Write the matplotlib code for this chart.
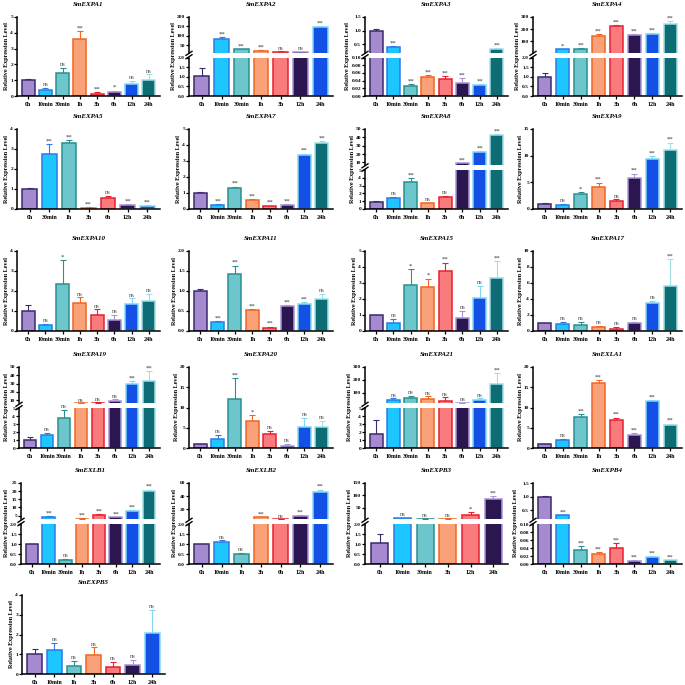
import numpy as np
import matplotlib
matplotlib.use("Agg")
import matplotlib.pyplot as plt
from matplotlib.lines import Line2D

plt.rcParams['font.family'] = ['Liberation Serif', 'DejaVu Serif']
plt.rcParams['font.weight'] = 'bold'

# ---- data (mean, error, significance) ----
T8 = ['0h', '10min', '30min', '1h', '3h', '6h', '12h', '24h']

A1_lab = T8
A1_mean = [1.0, 0.38, 1.45, 3.6, 0.15, 0.25, 0.75, 1.02]
A1_err = [0.1, 0.12, 0.35, 0.5, 0.1, 0.08, 0.2, 0.35]
A1_sig = ['', 'ns', 'ns', '**', '**', '*', 'ns', 'ns']

A2_lab = ['0h', '10min', '30min', '1h', '3h', '12h', '24h']
A2_mean = [1.05, 82, 28, 20, 16, 13, 145]
A2_err = [0.42, 10, 4, 3, 2, 3, 6]
A2_sig = ['', '**', '**', '**', 'ns', 'ns', '**']

A3_lab = T8
A3_mean = [1.0, 0.42, 0.027, 0.05, 0.045, 0.035, 0.028, 0.32]
A3_err = [0.05, 0.02, 0.003, 0.004, 0.008, 0.012, 0.003, 0.03]
A3_sig = ['', '**', '**', '**', '**', '**', '**', '**']

A4_lab = T8
A4_mean = [1.0, 35, 38, 145, 225, 150, 160, 245]
A4_err = [0.2, 5, 10, 15, 8, 8, 12, 25]
A4_sig = ['', '*', '**', '**', '**', '**', '**', '**']

A5_lab = ['0h', '30min', '1h', '3h', '6h', '12h', '24h']
A5_mean = [1.0, 2.75, 3.32, 0.07, 0.57, 0.2, 0.13]
A5_err = [0.05, 0.5, 0.12, 0.02, 0.08, 0.04, 0.06]
A5_sig = ['', '**', '**', '**', 'ns', '**', '**']

A7_lab = T8
A7_mean = [1.0, 0.25, 1.3, 0.55, 0.17, 0.27, 3.35, 4.15]
A7_err = [0.05, 0.04, 0.08, 0.05, 0.03, 0.03, 0.1, 0.1]
A7_sig = ['', '**', '**', '**', '**', '**', '**', '**']

A8_lab = T8
A8_mean = [0.95, 1.45, 3.4, 0.75, 1.6, 9, 22, 43]
A8_err = [0.1, 0.15, 0.6, 0.05, 0.1, 0.5, 1.5, 1.5]
A8_sig = ['', 'ns', '**', 'ns', 'ns', '**', '**', '**']

A9_lab = T8
A9_mean = [1.0, 0.8, 2.9, 4.1, 1.5, 5.9, 9.4, 11.0]
A9_err = [0.1, 0.15, 0.2, 0.8, 0.3, 0.7, 0.5, 1.4]
A9_sig = ['', 'ns', '*', '**', 'ns', '**', '**', '**']

A10_lab = T8
A10_mean = [1.0, 0.32, 2.35, 1.38, 0.78, 0.57, 1.35, 1.5]
A10_err = [0.3, 0.05, 1.2, 0.3, 0.3, 0.25, 0.28, 0.35]
A10_sig = ['', 'ns', '*', 'ns', 'ns', 'ns', 'ns', 'ns']

A11_lab = T8
A11_mean = [1.0, 0.22, 1.43, 0.52, 0.08, 0.62, 0.67, 0.8]
A11_err = [0.05, 0.03, 0.2, 0.03, 0.03, 0.03, 0.05, 0.12]
A11_sig = ['', '**', '**', '**', '**', '**', '**', 'ns']

A15_lab = T8
A15_mean = [1.0, 0.5, 2.85, 2.77, 3.72, 0.8, 2.07, 3.3]
A15_err = [0.03, 0.25, 1.0, 0.5, 0.55, 0.45, 0.75, 1.05]
A15_sig = ['', 'ns', '*', '*', '**', 'ns', 'ns', '**']

A17_lab = T8
A17_mean = [0.95, 0.85, 0.7, 0.55, 0.3, 1.05, 3.55, 5.6]
A17_err = [0.05, 0.3, 0.4, 0.1, 0.2, 0.05, 0.25, 3.4]
A17_sig = ['', 'ns', 'ns', 'ns', 'ns', 'ns', 'ns', '**']

A19_lab = T8
A19_mean = [1.0, 1.6, 3.75, 6.3, 6.5, 8.5, 29, 33]
A19_err = [0.4, 0.35, 1.1, 0.4, 0.8, 3, 4, 12]
A19_sig = ['', 'ns', 'ns', 'ns', 'ns', 'ns', '**', '**']

A20_lab = T8
A20_mean = [0.9, 2.1, 12.0, 6.7, 3.5, 0.6, 5.1, 5.3]
A20_err = [0.1, 1.2, 5.2, 1.4, 0.7, 0.4, 2.3, 1.3]
A20_sig = ['', 'ns', '**', '*', 'ns', 'ns', 'ns', 'ns']

A21_lab = T8
A21_mean = [1.8, 45, 60, 50, 38, 18, 45, 165]
A21_err = [1.75, 12, 15, 20, 25, 3, 10, 90]
A21_sig = ['', 'ns', 'ns', 'ns', 'ns', 'ns', 'ns', '**']

LA1_lab = T8
LA1_mean = [0.95, 1.95, 7.7, 16.1, 6.8, 3.3, 11.5, 5.8]
LA1_err = [0.1, 0.3, 0.6, 0.6, 0.7, 0.4, 0.3, 0.2]
LA1_sig = ['', 'ns', '**', '**', '**', '**', '**', '**']

LB1_lab = T8
LB1_mean = [1.0, 4.3, 0.22, 3.2, 5.5, 4.0, 8.0, 20.0]
LB1_err = [0.03, 0.4, 0.05, 0.2, 0.3, 0.3, 0.5, 1.0]
LB1_sig = ['', '**', 'ns', '**', '**', '**', '**', '**']

LB2_lab = ['0h', '10min', '1h', '3h', '6h', '12h', '24h']
LB2_mean = [1.0, 1.1, 0.5, 7.5, 4.5, 9.5, 46]
LB2_err = [0.03, 0.1, 0.08, 1.0, 0.3, 1.0, 4.0]
LB2_sig = ['', 'ns', 'ns', '**', 'ns', '**', '**']

B3_lab = ['0h', '10min', '30min', '3h', '12h', '24h']
B3_mean = [1.05, 8, 6, 6, 22, 85]
B3_err = [0.45, 2, 1, 1, 10, 12]
B3_sig = ['', 'ns', 'ns', 'ns', '*', '**']

B4_lab = T8
B4_mean = [1.0, 0.3, 0.036, 0.026, 0.04, 0.008, 0.017, 0.009]
B4_err = [0.02, 0.03, 0.01, 0.005, 0.012, 0.003, 0.004, 0.002]
B4_sig = ['', '**', '**', '**', '**', '**', '**', '**']

B5_lab = ['0h', '10min', '1h', '3h', '6h', '12h', '24h']
B5_mean = [1.0, 1.22, 0.4, 0.97, 0.35, 0.45, 2.1]
B5_err = [0.28, 0.35, 0.28, 0.38, 0.25, 0.27, 1.15]
B5_sig = ['', 'ns', 'ns', 'ns', 'ns', 'ns', 'ns']

# bar colours by position
FACE = ['#a58ad0', '#1ec6ff', '#6cc6cc', '#f9a27a', '#fa7b7e', '#2b1650', '#1550e6', '#0e6c75']
EDGE = ['#3b2a6e', '#2d7be8', '#2a8f90', '#f26522', '#e8202e', '#a895d8', '#7fd8f5', '#9fe0e8']

W, H = 685, 685
fig = plt.figure(figsize=(6.85, 6.85), dpi=100)

COLS = [(17, 160), (189, 333), (365, 508), (533, 682)]
ROWS = [(17, 96), (129, 209), (251, 331), (367, 448), (483, 564), (595, 674)]

ylab_jobs = []  # (axes list, top, bottom) -> y labels placed after drawing


def px_axes(l, t, r, b):
    return fig.add_axes([l / W, 1 - b / H, (r - l) / W, (b - t) / H])


def style(ax, ticks, fmt, bottom=True):
    ax.spines['top'].set_visible(False)
    ax.spines['right'].set_visible(False)
    ax.spines['left'].set_linewidth(1.1)
    ax.spines['bottom'].set_linewidth(1.1)
    ax.set_yticks(ticks)
    ax.set_yticklabels([fmt.format(t) for t in ticks], fontsize=3.9, fontweight='bold')
    ax.tick_params(axis='y', length=2, width=0.9, pad=0.8)
    if not bottom:
        ax.spines['bottom'].set_visible(False)
        ax.set_xticks([])


def bars(ax, mean, err, sig, lo, hi):
    x = np.arange(len(mean))
    span = hi - lo
    for i in range(len(mean)):
        ax.bar(x[i], mean[i], width=0.75, color=FACE[i], edgecolor=EDGE[i], linewidth=1.1, zorder=2)
        top = mean[i] + err[i]
        if mean[i] <= hi and top >= lo:
            ax.errorbar(x[i], mean[i], yerr=[[0], [err[i]]], ecolor=EDGE[i], capsize=2,
                        elinewidth=0.8, capthick=0.8, zorder=1)
        if sig[i] and lo <= top < hi + 0.05 * span:
            ax.text(x[i], top + 0.01 * span, sig[i], ha='center', va='bottom',
                    fontsize=4.8, color='#333333' if sig[i] != 'ns' else '#555555',
                    fontweight='normal')
    ax.set_xlim(-0.65, len(mean) - 0.35)
    ax.set_ylim(lo, hi)


def xlabels(ax, labels):
    ax.set_xticks(np.arange(len(labels)))
    ax.set_xticklabels(labels, fontsize=4.3, fontweight='bold')
    ax.tick_params(axis='x', length=2, width=0.9, pad=2)


def panel(col, row, title, labels, mean, err, sig, ticks, fmt,
          brk=None, left=None, right=None):
    l, r = COLS[col]
    if left is not None:
        l = left
    if right is not None:
        r = right
    t, b = ROWS[row]
    if brk is None:
        ax = px_axes(l, t, r, b)
        bars(ax, mean, err, sig, ticks[0], ticks[-1])
        style(ax, ticks, fmt)
        xlabels(ax, labels)
        axes = [ax]
    else:
        up_lo, up_ticks, up_fmt = brk
        gap = 5
        hu = (b - t - gap) * 0.48
        axu = px_axes(l, t, r, t + hu)
        axl = px_axes(l, t + hu + gap, r, b)
        bars(axu, mean, err, sig, up_lo, up_ticks[-1])
        bars(axl, mean, err, sig, ticks[0], ticks[-1])
        style(axu, up_ticks, up_fmt, bottom=False)
        style(axl, ticks, fmt)
        xlabels(axl, labels)
        axes = [axu, axl]
        # break mark on the y axis
        yb = t + hu + gap / 2
        for dy in (-1.7, 1.7):
            fig.add_artist(Line2D([(l - 3) / W, (l + 3) / W],
                                  [1 - (yb + dy + 2.0) / H, 1 - (yb + dy - 2.0) / H],
                                  color='black', lw=1.0))
    fig.text((l + r) / 2 / W, 1 - (t - 12) / H, title, ha='center', va='center',
             fontsize=5, fontstyle='italic', fontweight='bold')
    ylab_jobs.append((axes, t, b))


panel(0, 0, 'SmEXPA1', A1_lab, A1_mean, A1_err, A1_sig, [0, 1, 2, 3, 4, 5], '{:d}')
panel(1, 0, 'SmEXPA2', A2_lab, A2_mean, A2_err, A2_sig, [0, 0.5, 1.0, 1.5, 2.0], '{:.1f}',
      brk=(11, [50, 100, 150, 200], '{:d}'))
panel(2, 0, 'SmEXPA3', A3_lab, A3_mean, A3_err, A3_sig, [0, 0.02, 0.04, 0.06, 0.08, 0.10], '{:.2f}',
      brk=(0.2, [0.5, 1.0, 1.5], '{:.1f}'))
panel(3, 0, 'SmEXPA4', A4_lab, A4_mean, A4_err, A4_sig, [0, 0.5, 1.0, 1.5, 2.0], '{:.1f}',
      brk=(10, [100, 200, 300], '{:d}'))

panel(0, 1, 'SmEXPA5', A5_lab, A5_mean, A5_err, A5_sig, [0, 1, 2, 3, 4], '{:d}')
panel(1, 1, 'SmEXPA7', A7_lab, A7_mean, A7_err, A7_sig, [0, 1, 2, 3, 4, 5], '{:d}')
panel(2, 1, 'SmEXPA8', A8_lab, A8_mean, A8_err, A8_sig, [0, 1, 2, 3, 4, 5], '{:d}',
      brk=(7, [10, 20, 30, 40, 50], '{:d}'))
panel(3, 1, 'SmEXPA9', A9_lab, A9_mean, A9_err, A9_sig, [0, 5, 10, 15], '{:d}')

panel(0, 2, 'SmEXPA10', A10_lab, A10_mean, A10_err, A10_sig, [0, 1, 2, 3, 4], '{:d}')
panel(1, 2, 'SmEXPA11', A11_lab, A11_mean, A11_err, A11_sig, [0, 0.5, 1.0, 1.5, 2.0], '{:.1f}')
panel(2, 2, 'SmEXPA15', A15_lab, A15_mean, A15_err, A15_sig, [0, 1, 2, 3, 4, 5], '{:d}')
panel(3, 2, 'SmEXPA17', A17_lab, A17_mean, A17_err, A17_sig, [0, 2, 4, 6, 8, 10], '{:d}')

panel(0, 3, 'SmEXPA19', A19_lab, A19_mean, A19_err, A19_sig, [0, 1, 2, 3, 4, 5], '{:d}',
      brk=(6, [10, 20, 30, 40, 50], '{:d}'), left=19)
panel(1, 3, 'SmEXPA20', A20_lab, A20_mean, A20_err, A20_sig, [0, 5, 10, 15, 20], '{:d}')
panel(2, 3, 'SmEXPA21', A21_lab, A21_mean, A21_err, A21_sig, [0, 1, 2, 3, 4, 5], '{:d}',
      brk=(15, [100, 200, 300], '{:d}'))
panel(3, 3, 'SmEXLA1', LA1_lab, LA1_mean, LA1_err, LA1_sig, [0, 5, 10, 15, 20], '{:d}')

panel(0, 4, 'SmEXLB1', LB1_lab, LB1_mean, LB1_err, LB1_sig, [0, 0.5, 1.0, 1.5, 2.0], '{:.1f}',
      brk=(2.6, [5, 10, 15, 20, 25], '{:d}'), left=21)
panel(1, 4, 'SmEXLB2', LB2_lab, LB2_mean, LB2_err, LB2_sig, [0, 0.5, 1.0, 1.5, 2.0], '{:.1f}',
      brk=(4, [20, 40, 60], '{:d}'))
panel(2, 4, 'SmEXPB3', B3_lab, B3_mean, B3_err, B3_sig, [0, 0.5, 1.0, 1.5, 2.0], '{:.1f}',
      brk=(3, [50, 100, 150], '{:d}'))
panel(3, 4, 'SmEXPB4', B4_lab, B4_mean, B4_err, B4_sig, [0, 0.02, 0.04, 0.06, 0.08, 0.10], '{:.2f}',
      brk=(0.15, [0.5, 1.0, 1.5], '{:.1f}'))

panel(0, 5, 'SmEXPB5', B5_lab, B5_mean, B5_err, B5_sig, [0, 1, 2, 3, 4], '{:d}', left=22, right=165)

# y labels just left of the tick labels, centred on the whole panel
fig.canvas.draw()
renderer = fig.canvas.get_renderer()
for axes, t, b in ylab_jobs:
    x0 = min(lab.get_window_extent(renderer).x0
             for ax in axes for lab in ax.get_yticklabels() if lab.get_text())
    x0 = max(x0 - 1, 7)
    fig.text(x0 / W, 1 - (t + b) / 2 / H, 'Relative Expression Level', rotation=90,
             ha='right', va='center', fontsize=4.4, fontweight='bold')

fig.savefig('out.png', dpi=100)
